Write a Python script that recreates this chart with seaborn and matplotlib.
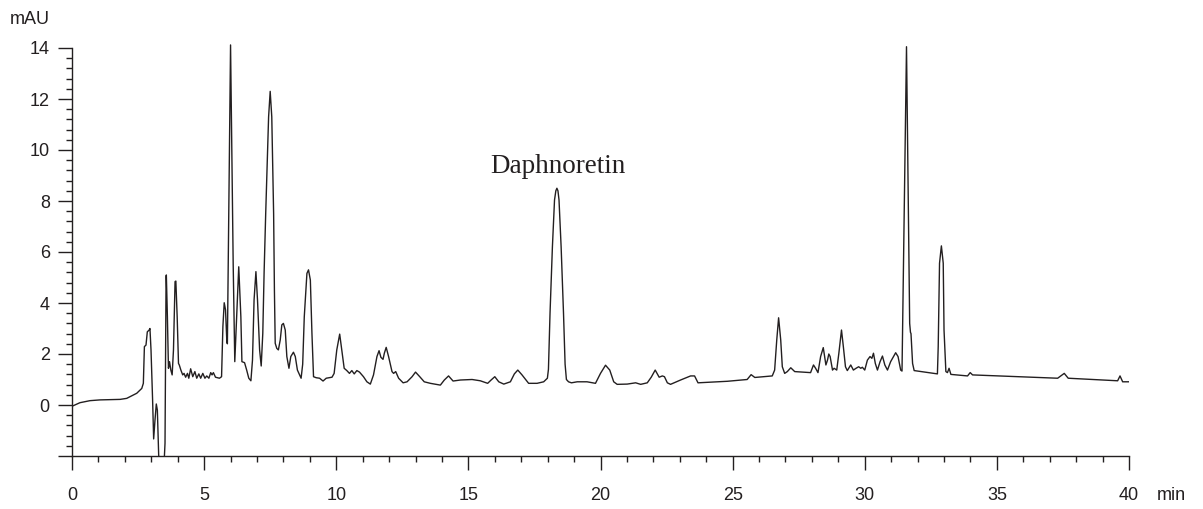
import numpy as np
import pandas as pd
import seaborn as sns
import matplotlib.pyplot as plt

# Chromatogram trace (retention time in min, absorbance in mAU)
time_min = [
    0.0, 0.3, 0.68, 1.06, 1.82, 2.07, 2.45, 2.64, 2.70, 2.74, 2.80, 2.85, 2.92, 2.95,
    2.99, 3.05, 3.09, 3.14, 3.19, 3.23, 3.28, 3.33, 3.47, 3.52, 3.56, 3.57, 3.61, 3.65,
    3.69, 3.74, 3.79, 3.84, 3.90, 3.93, 3.98, 4.03, 4.06, 4.12, 4.19, 4.24, 4.30, 4.37,
    4.42, 4.49, 4.57, 4.65, 4.72, 4.80, 4.87, 4.95, 5.03, 5.10, 5.18, 5.25, 5.30, 5.35,
    5.43, 5.58, 5.66, 5.71, 5.76, 5.81, 5.86, 5.88, 6.00, 6.10, 6.16, 6.31, 6.39, 6.43,
    6.53, 6.61, 6.69, 6.77, 6.83, 6.89, 6.96, 7.02, 7.10, 7.16, 7.22, 7.27, 7.33, 7.44,
    7.50, 7.56, 7.63, 7.66, 7.69, 7.75, 7.81, 7.88, 7.94, 8.00, 8.07, 8.13, 8.21, 8.28,
    8.38, 8.45, 8.53, 8.67, 8.73, 8.79, 8.89, 8.95, 9.02, 9.08, 9.14, 9.24, 9.37, 9.50,
    9.62, 9.84, 9.92, 10.02, 10.13, 10.21, 10.30, 10.40, 10.50, 10.59, 10.68, 10.78, 10.88,
    11.03, 11.16, 11.29, 11.41, 11.54, 11.62, 11.69, 11.77, 11.82, 11.89, 11.98, 12.11,
    12.17, 12.25, 12.36, 12.53, 12.68, 12.87, 13.00, 13.16, 13.33, 13.56, 13.94, 14.09,
    14.25, 14.42, 14.70, 15.14, 15.45, 15.73, 15.86, 16.00, 16.15, 16.34, 16.59, 16.74,
    16.87, 17.03, 17.28, 17.60, 17.85, 17.99, 18.03, 18.09, 18.18, 18.26, 18.31, 18.35,
    18.39, 18.43, 18.51, 18.60, 18.66, 18.71, 18.79, 18.90, 19.12, 19.49, 19.81, 20.00,
    20.19, 20.35, 20.50, 20.63, 21.01, 21.33, 21.52, 21.77, 21.92, 22.07, 22.22, 22.34,
    22.42, 22.53, 22.65, 23.03, 23.41, 23.56, 23.69, 24.80, 25.55, 25.70, 25.84, 26.50,
    26.59, 26.67, 26.74, 26.82, 26.88, 26.97, 27.07, 27.20, 27.35, 27.95, 28.06, 28.14,
    28.23, 28.33, 28.43, 28.53, 28.59, 28.64, 28.69, 28.78, 28.84, 28.94, 29.02, 29.12,
    29.19, 29.27, 29.34, 29.47, 29.57, 29.67, 29.77, 29.85, 29.91, 30.00, 30.10, 30.20,
    30.27, 30.33, 30.40, 30.48, 30.58, 30.67, 30.76, 30.86, 30.98, 31.17, 31.26, 31.36,
    31.41, 31.58, 31.70, 31.73, 31.75, 31.81, 31.87, 32.75, 32.78, 32.83, 32.90, 32.97,
    33.00, 33.07, 33.13, 33.19, 33.26, 33.89, 33.99, 34.08, 37.30, 37.55, 37.70, 39.57,
    39.66, 39.76, 40.0,
]
signal_mau = [
    -0.05, 0.09, 0.17, 0.20, 0.22, 0.26, 0.46, 0.65, 0.85, 2.29, 2.35, 2.87, 2.94, 3.00,
    2.16, 0.20, -1.33, -0.60, 0.04, -0.20, -1.96, -2.60, -2.60, -1.50, 5.03, 5.10, 3.46, 1.44,
    1.70, 1.37, 1.18, 2.16, 4.84, 4.86, 3.46, 1.63, 1.57, 1.37, 1.18, 1.24, 1.09, 1.24,
    1.05, 1.42, 1.11, 1.31, 1.05, 1.22, 1.05, 1.24, 1.05, 1.14, 1.05, 1.27, 1.18, 1.27,
    1.09, 1.05, 1.11, 3.07, 4.01, 3.73, 2.48, 2.40, 14.12, 5.50, 1.70, 5.42, 3.46, 1.70,
    1.66, 1.37, 1.05, 0.95, 1.76, 4.12, 5.23, 4.12, 2.16, 1.53, 2.81, 5.20, 7.50, 11.30,
    12.30, 11.30, 7.50, 4.50, 2.42, 2.22, 2.16, 2.55, 3.14, 3.20, 2.94, 1.90, 1.44, 1.90,
    2.07, 1.90, 1.37, 1.05, 1.60, 3.46, 5.16, 5.30, 4.90, 2.81, 1.11, 1.07, 1.05, 0.94,
    1.05, 1.09, 1.24, 2.16, 2.78, 2.16, 1.44, 1.35, 1.24, 1.35, 1.22, 1.35, 1.29,
    1.11, 0.91, 0.82, 1.18, 1.90, 2.13, 1.87, 1.79, 2.03, 2.26, 1.90, 1.31,
    1.24, 1.31, 1.05, 0.87, 0.91, 1.11, 1.29, 1.11, 0.91, 0.85, 0.78, 0.98,
    1.14, 0.94, 0.98, 1.00, 0.95, 0.85, 0.98, 1.11, 0.91, 0.82, 0.91, 1.22,
    1.37, 1.18, 0.85, 0.85, 0.91, 1.05, 1.40, 3.60, 6.20, 8.04, 8.40, 8.50,
    8.40, 8.04, 6.20, 3.60, 1.60, 1.00, 0.91, 0.87, 0.91, 0.91, 0.85, 1.24,
    1.56, 1.37, 0.91, 0.81, 0.82, 0.87, 0.81, 0.87, 1.09, 1.37, 1.09, 1.14,
    1.11, 0.87, 0.81, 0.98, 1.14, 1.14, 0.87, 0.93, 1.00, 1.19, 1.08, 1.14,
    1.37, 2.55, 3.42, 2.55, 1.50, 1.24, 1.31, 1.46, 1.31, 1.27, 1.57, 1.44,
    1.27, 1.90, 2.25, 1.57, 1.76, 2.00, 1.90, 1.37, 1.44, 1.37, 2.03, 2.94,
    2.29, 1.50, 1.35, 1.57, 1.37, 1.44, 1.50, 1.44, 1.48, 1.37, 1.76, 1.90,
    1.83, 2.03, 1.63, 1.37, 1.70, 1.92, 1.57, 1.37, 1.70, 2.05, 1.90, 1.37,
    1.33, 14.05, 3.20, 2.85, 2.80, 1.63, 1.35, 1.22, 2.29, 5.56, 6.24, 5.56,
    2.94, 1.31, 1.27, 1.44, 1.20, 1.14, 1.27, 1.18, 1.05, 1.24, 1.05, 0.95,
    1.14, 0.91, 0.91,
]
x_ticks = [0, 5, 10, 15, 20, 25, 30, 35, 40]
y_ticks = [-2, 0, 2, 4, 6, 8, 10, 12, 14]
y_tick_labels = ["", "0", "2", "4", "6", "8", "10", "12", "14"]
peak_label = "Daphnoretin"

ink = "#231f20"

sns.set_style("ticks")
plt.rcParams["font.family"] = ["Liberation Sans", "DejaVu Sans"]

fig = plt.figure(figsize=(12.03, 5.09), dpi=100)
ax = fig.add_axes([72 / 1203, 53 / 509, 1057 / 1203, (456 - 42.9) / 509])

df = pd.DataFrame({"time": time_min, "signal": signal_mau})
sns.lineplot(data=df, x="time", y="signal", sort=False, estimator=None,
             color=ink, linewidth=1.0, ax=ax)

ax.set_xlim(0, 40)
ax.set_ylim(-2, 14.2)
ax.spines["top"].set_visible(False)
ax.spines["right"].set_visible(False)
ax.spines["left"].set_bounds(-2, 14)
for s in ["left", "bottom"]:
    ax.spines[s].set_color(ink)
    ax.spines[s].set_linewidth(1.0)

ax.set_xticks(x_ticks)
ax.set_xticks(np.arange(0, 41, 1), minor=True)
ax.set_yticks(y_ticks)
ax.set_yticklabels(y_tick_labels)
ax.set_yticks(np.arange(-2, 14.01, 0.4), minor=True)
ax.tick_params(which="both", direction="out", color=ink, width=1.0, labelcolor=ink)
ax.tick_params(which="major", length=10, labelsize=13)
ax.tick_params(which="minor", length=4.5)
ax.tick_params(axis="x", which="major", pad=12)
ax.tick_params(axis="y", which="major", pad=6)
ax.set_xlabel("")
ax.set_ylabel("")

ax.text(18.39, 9.09, peak_label, ha="center", va="baseline", fontsize=19.5,
        family=["Liberation Serif", "DejaVu Serif"], color=ink)
fig.text(10 / 1203, 1 - 24 / 509, "mAU", ha="left", va="baseline", fontsize=13, color=ink)
fig.text(1157 / 1203, 1 - 500 / 509, "min", ha="left", va="baseline", fontsize=13, color=ink)

fig.savefig("out.png", dpi=100)
